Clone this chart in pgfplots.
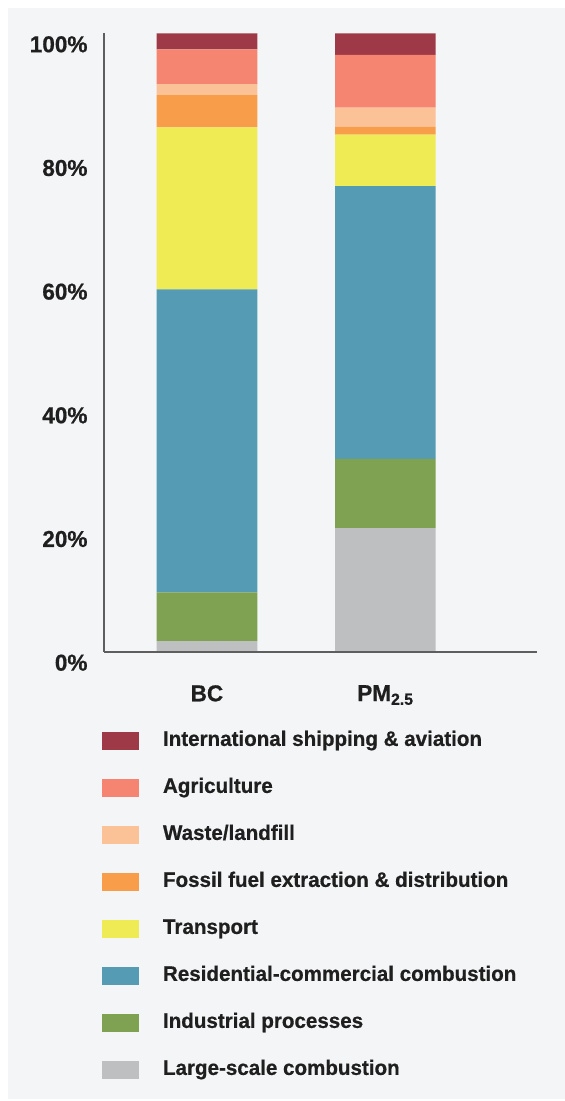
\documentclass[border=0pt]{standalone}
\usepackage{fontspec}
\setmainfont{Liberation Sans}[FakeStretch=0.98, BoldFeatures={FakeBold=0.6}]
\usepackage{pgfplots}
\pgfplotsset{compat=1.18}
\definecolor{bgc}{HTML}{F4F5F7}
\definecolor{cship}{HTML}{9E3A47}
\definecolor{cagri}{HTML}{F58471}
\definecolor{cwaste}{HTML}{FBC298}
\definecolor{cfossil}{HTML}{F89E4A}
\definecolor{ctrans}{HTML}{EFEB55}
\definecolor{cres}{HTML}{549BB3}
\definecolor{cind}{HTML}{7EA152}
\definecolor{clarge}{HTML}{BEBFC1}
\definecolor{axc}{HTML}{5E5E5E}
\begin{document}
\begin{tikzpicture}
\path[use as bounding box] (0pt,0pt) rectangle (565pt,1101pt);
\fill[bgc] (8pt,2pt) rectangle (565pt,1093pt);
\begin{axis}[
  at={(104pt,449.3pt)}, anchor=south west,
  scale only axis, width=432.7pt, height=618.4pt,
  ybar stacked, bar width=100.7pt,
  xmin=-0.577, xmax=1.848, ymin=0, ymax=100,
  axis x line=bottom, axis y line=left,
  axis line style={draw=axc, line width=2pt, -},
  axis on top,
  major tick length=0pt,
  xtick={0,1}, xticklabels={BC,PM\textsubscript{2.5}},
  ytick={0,20,40,60,80,100},
  yticklabels={0\%,20\%,40\%,60\%,80\%,100\%},
  tick label style={font=\fontsize{23}{26}\selectfont\bfseries, text=black!88},
  yticklabel style={yshift=-11pt, xshift=-13pt},
  xticklabel style={yshift=-30pt},
  /pgf/number format/assume math mode=true,
  reverse legend,
  legend cell align=left,
  legend image code/.code={\fill[#1] (0pt,-9pt) rectangle (36.7pt,9pt);},
  legend style={draw=none, fill=none, at={(0,0)}, anchor=north west,
    xshift=-5.3pt, yshift=-77pt,
    font=\fontsize{21}{24}\selectfont\bfseries, text=black!88,
    nodes={inner sep=0pt, text height=15pt, text depth=5pt},
    row sep=27pt, column sep=24.4pt},
]
\addplot[fill=clarge, draw=none] coordinates {(0,1.7) (1,20.0)};
\addlegendentry{Large-scale combustion}
\addplot[fill=cind, draw=none] coordinates {(0,7.9) (1,11.2)};
\addlegendentry{Industrial processes}
\addplot[fill=cres, draw=none] coordinates {(0,49.0) (1,44.1)};
\addlegendentry{Residential-commercial combustion}
\addplot[fill=ctrans, draw=none] coordinates {(0,26.2) (1,8.3)};
\addlegendentry{Transport}
\addplot[fill=cfossil, draw=none] coordinates {(0,5.2) (1,1.3)};
\addlegendentry{Fossil fuel extraction \& distribution}
\addplot[fill=cwaste, draw=none] coordinates {(0,1.8) (1,3.1)};
\addlegendentry{Waste/landfill}
\addplot[fill=cagri, draw=none] coordinates {(0,5.6) (1,8.5)};
\addlegendentry{Agriculture}
\addplot[fill=cship, draw=none] coordinates {(0,2.6) (1,3.5)};
\addlegendentry{International shipping \& aviation}
\end{axis}
\end{tikzpicture}
\end{document}
